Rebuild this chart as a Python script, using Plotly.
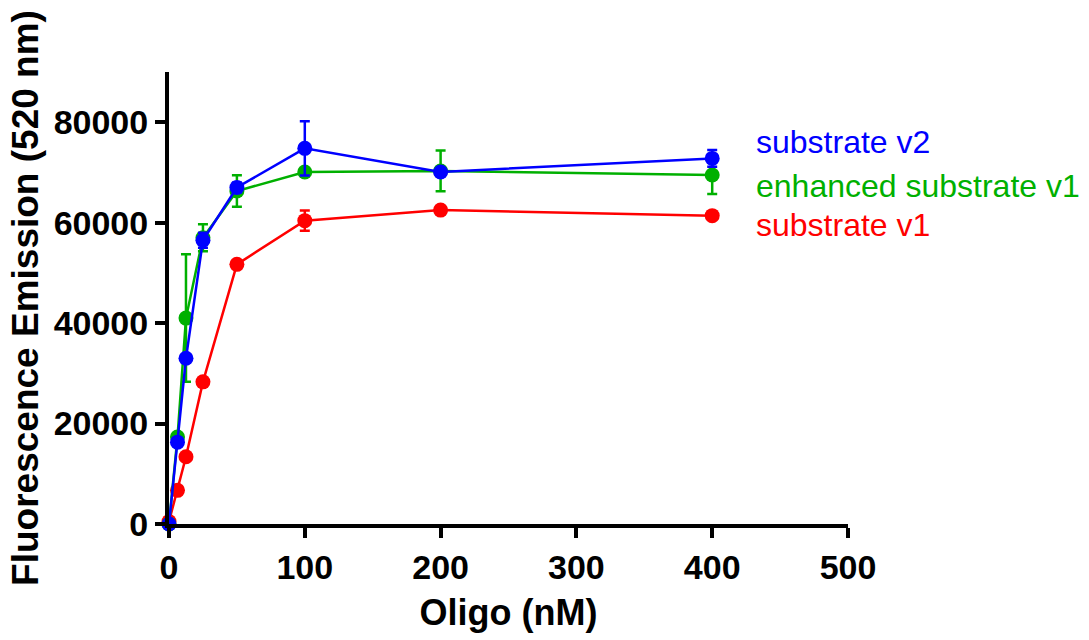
import plotly.graph_objects as go

# Oligo concentration (nM)
oligo_nm = [0, 6.25, 12.5, 25, 50, 100, 200, 400]

# Mean fluorescence emission at 520 nm and standard deviations
substrate_v1 = [500, 6700, 13400, 28300, 51700, 60400, 62500, 61400]
substrate_v1_sd = [0, 0, 0, 0, 0, 2000, 0, 0]

enhanced_v1 = [0, 17300, 41000, 57000, 66300, 70100, 70300, 69500]
enhanced_v1_sd = [0, 0, 12700, 2700, 3150, 0, 4050, 3800]

substrate_v2 = [0, 16300, 33000, 56500, 67000, 74800, 70100, 72800]
substrate_v2_sd = [0, 0, 0, 1500, 1000, 5400, 0, 1650]

series_names = ["substrate v1", "enhanced substrate v1", "substrate v2"]
series_colors = ["#FF0000", "#00B000", "#0000FF"]

x_ticks = [0, 100, 200, 300, 400, 500]
y_ticks = [0, 20000, 40000, 60000, 80000]

FONT = "Liberation Sans, Arial, sans-serif"

fig = go.Figure()
for name, ys, sd, color in zip(
    series_names,
    [substrate_v1, enhanced_v1, substrate_v2],
    [substrate_v1_sd, enhanced_v1_sd, substrate_v2_sd],
    series_colors,
):
    fig.add_trace(go.Scatter(
        x=oligo_nm, y=ys, name=name, mode="lines+markers",
        line=dict(color=color, width=2.5),
        marker=dict(color=color, size=15),
        error_y=dict(type="data", array=sd, visible=True,
                     color=color, thickness=2.5, width=5),
        cliponaxis=False,
        showlegend=False,
    ))

# Series labels at the right of the plot, in series colours
label_y = {"substrate v2": 0.846, "enhanced substrate v1": 0.748, "substrate v1": 0.661}
for name, color in zip(series_names, series_colors):
    fig.add_annotation(
        text=name, xref="paper", yref="paper", x=0.861, y=label_y[name],
        xanchor="left", yanchor="middle", showarrow=False,
        font=dict(family=FONT, size=32, color=color),
    )

axis_common = dict(
    showline=True, linecolor="black", linewidth=4,
    ticks="outside", ticklen=10, tickwidth=4, tickcolor="black",
    showgrid=False, zeroline=False,
    tickfont=dict(family=FONT, size=34, color="black", weight="bold"),
)

fig.update_layout(
    width=1089, height=640,
    margin=dict(l=169, r=241, t=72, b=116),
    paper_bgcolor="white", plot_bgcolor="white",
    xaxis=dict(range=[0, 500], tickvals=x_ticks, ticktext=[str(v) for v in x_ticks],
               title=dict(text="Oligo (nM)", standoff=16,
                          font=dict(family=FONT, size=36, color="black", weight="bold")),
               **axis_common),
    yaxis=dict(range=[0, 90000], tickvals=y_ticks, ticktext=[str(v) for v in y_ticks],
               title=dict(text="Fluorescence Emission (520 nm)", standoff=5,
                          font=dict(family=FONT, size=37, color="black", weight="bold")),
               **axis_common),
)

fig.write_html("out.html")
